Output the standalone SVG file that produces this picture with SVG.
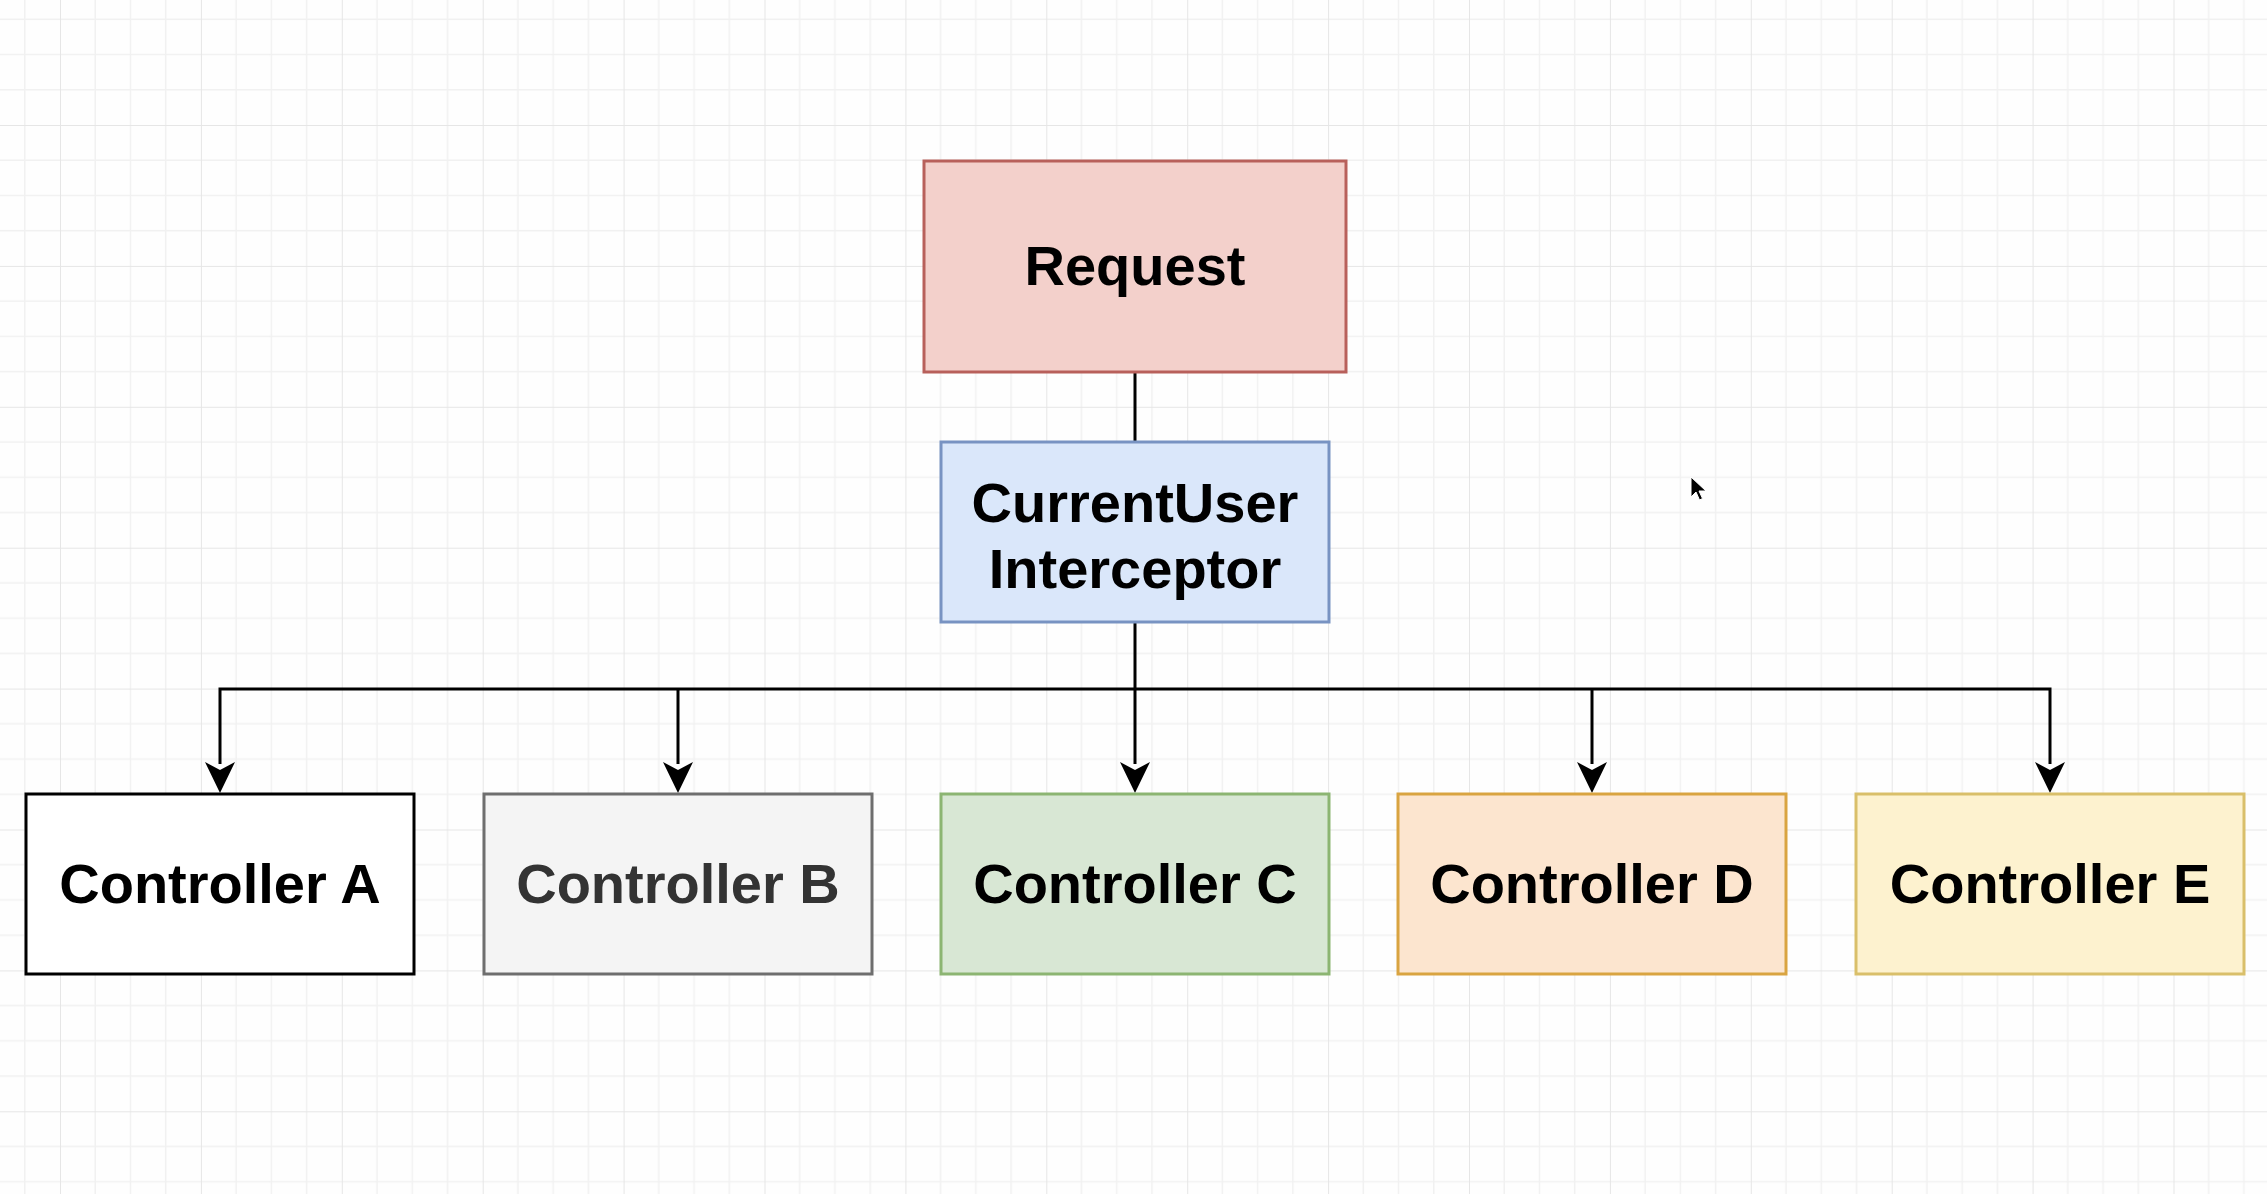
<svg xmlns="http://www.w3.org/2000/svg" width="2267" height="1194" viewBox="0 0 2267 1194">
  <style>
    .box { stroke-width: 3; }
    .label { font-family: "Liberation Sans", Arial, Helvetica, sans-serif; font-weight: bold; font-size: 56px; text-anchor: middle; fill: #000; }
    .wire { fill: none; stroke: #000; stroke-width: 3; }
  </style>
  <defs>
    <pattern id="grid" patternUnits="userSpaceOnUse" x="60" y="125" width="140.9" height="140.9">
      <g stroke="#f1f1f1" stroke-width="1.5">
        <line x1="35.2" y1="0" x2="35.2" y2="140.9"/>
        <line x1="70.45" y1="0" x2="70.45" y2="140.9"/>
        <line x1="105.7" y1="0" x2="105.7" y2="140.9"/>
        <line x1="0" y1="35.2" x2="140.9" y2="35.2"/>
        <line x1="0" y1="70.45" x2="140.9" y2="70.45"/>
        <line x1="0" y1="105.7" x2="140.9" y2="105.7"/>
      </g>
      <g stroke="#e6e6e6" stroke-width="2">
        <line x1="0" y1="0" x2="0" y2="140.9"/>
        <line x1="0" y1="0" x2="140.9" y2="0"/>
      </g>
    </pattern>
  </defs>

  <!-- canvas -->
  <rect width="2267" height="1194" fill="#fefefe"/>
  <rect width="2267" height="1194" fill="url(#grid)"/>

  <!-- connectors -->
  <g id="connectors">
    <line class="wire" x1="1135" y1="372" x2="1135" y2="442"/>
    <polyline class="wire" points="1135,622 1135,764"/>
    <polyline class="wire" points="220,764 220,689 2050,689 2050,764"/>
    <line class="wire" x1="678" y1="689" x2="678" y2="764"/>
    <line class="wire" x1="1592" y1="689" x2="1592" y2="764"/>
    <g fill="#000">
      <path d="M220,793 L205,762 L220,770 L235,762 Z"/>
      <path d="M678,793 L663,762 L678,770 L693,762 Z"/>
      <path d="M1135,793 L1120,762 L1135,770 L1150,762 Z"/>
      <path d="M1592,793 L1577,762 L1592,770 L1607,762 Z"/>
      <path d="M2050,793 L2035,762 L2050,770 L2065,762 Z"/>
    </g>
  </g>

  <!-- nodes -->
  <g id="request">
    <rect class="box" x="924" y="161" width="422" height="211" fill="#f3d0cb" stroke="#b8605b"/>
    <text class="label" x="1135" y="285">Request</text>
  </g>

  <g id="interceptor">
    <rect class="box" x="941" y="442" width="388" height="180" fill="#dae7fa" stroke="#7893c2"/>
    <text class="label" x="1135" y="522">CurrentUser</text>
    <text class="label" x="1135" y="588">Interceptor</text>
  </g>

  <g id="controller-a">
    <rect class="box" x="26" y="794" width="388" height="180" fill="#ffffff" stroke="#000000"/>
    <text class="label" x="220" y="903">Controller A</text>
  </g>

  <g id="controller-b">
    <rect class="box" x="484" y="794" width="388" height="180" fill="#f4f4f4" stroke="#6e6e6e"/>
    <text class="label" x="678" y="903" style="fill:#333333">Controller B</text>
  </g>

  <g id="controller-c">
    <rect class="box" x="941" y="794" width="388" height="180" fill="#d8e7d4" stroke="#8cb572"/>
    <text class="label" x="1135" y="903">Controller C</text>
  </g>

  <g id="controller-d">
    <rect class="box" x="1398" y="794" width="388" height="180" fill="#fce5cf" stroke="#d9a441"/>
    <text class="label" x="1592" y="903">Controller D</text>
  </g>

  <g id="controller-e">
    <rect class="box" x="1856" y="794" width="388" height="180" fill="#fdf2cf" stroke="#d9bf6a"/>
    <text class="label" x="2050" y="903">Controller E</text>
  </g>

  <!-- mouse pointer -->
  <path d="M1691,477 L1691,497 L1696,492 L1699.5,500 L1702.5,498.5 L1699,491 L1706,491 Z" fill="#000" stroke="#fff" stroke-width="1"/>
</svg>
